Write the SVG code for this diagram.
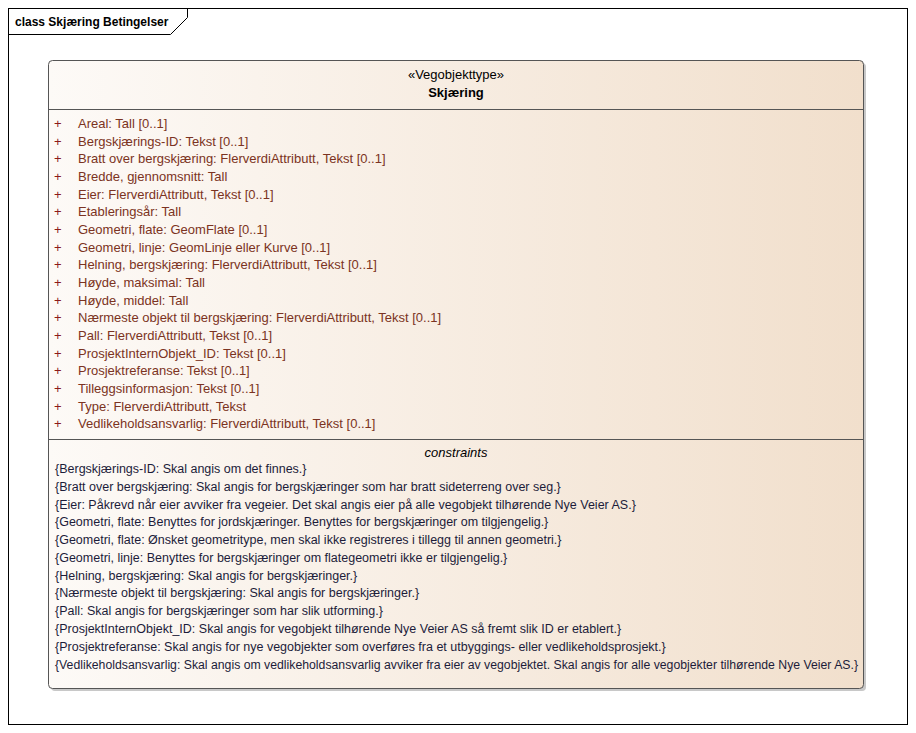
<svg xmlns="http://www.w3.org/2000/svg" width="916" height="733" viewBox="0 0 916 733">
<style>
text{font-family:"Liberation Sans",Arial,sans-serif;font-size:13px}
.attr{fill:#7b3322}
.plus{fill:#8b1a1a}
.con text{fill:#1c1c3a;font-size:12.5px}
.hdr{fill:#000}
.ttl{font-size:12px;font-weight:bold}
</style>
<defs>
<linearGradient id="g" x1="0" y1="0" x2="1" y2="0">
<stop offset="0" stop-color="#fdfaf7"/>
<stop offset="1" stop-color="#f1dfcc"/>
</linearGradient>
</defs>
<rect x="0" y="0" width="916" height="733" fill="#fff"/>
<g id="frame">
<rect x="8.5" y="8.5" width="899" height="716" fill="none" stroke="#000" stroke-width="1"/>
<path d="M8.5 34.5 H170.5 L187.5 17.5 V8.5" fill="none" stroke="#000"/>
<text x="15" y="26" class="hdr ttl">class Skjæring Betingelser</text>
</g>
<g id="connectors"></g>
<g id="Skjaering">
<rect x="51" y="63" width="815" height="628" rx="4" fill="#c8c8c8"/>
<rect x="48.5" y="60.5" width="815" height="628" rx="4" fill="url(#g)" stroke="#555" stroke-width="1"/>
<line x1="48.5" y1="109.5" x2="863.5" y2="109.5" stroke="#555"/>
<line x1="48.5" y1="439.5" x2="863.5" y2="439.5" stroke="#555"/>
<text x="456" y="79" text-anchor="middle" class="hdr">«Vegobjekttype»</text>
<text x="456" y="97" text-anchor="middle" class="hdr" style="font-weight:bold">Skjæring</text>
<g class="plus">
<text x="54" y="128">+</text><text x="54" y="146">+</text><text x="54" y="163">+</text><text x="54" y="181">+</text><text x="54" y="199">+</text><text x="54" y="216">+</text><text x="54" y="234">+</text><text x="54" y="252">+</text><text x="54" y="269">+</text><text x="54" y="287">+</text><text x="54" y="305">+</text><text x="54" y="322">+</text><text x="54" y="340">+</text><text x="54" y="358">+</text><text x="54" y="375">+</text><text x="54" y="393">+</text><text x="54" y="411">+</text><text x="54" y="428">+</text>
</g>
<g class="attr">
<text x="78" y="128">Areal: Tall [0..1]</text>
<text x="78" y="146">Bergskjærings-ID: Tekst [0..1]</text>
<text x="78" y="163">Bratt over bergskjæring: FlerverdiAttributt, Tekst [0..1]</text>
<text x="78" y="181">Bredde, gjennomsnitt: Tall</text>
<text x="78" y="199">Eier: FlerverdiAttributt, Tekst [0..1]</text>
<text x="78" y="216">Etableringsår: Tall</text>
<text x="78" y="234">Geometri, flate: GeomFlate [0..1]</text>
<text x="78" y="252">Geometri, linje: GeomLinje eller Kurve [0..1]</text>
<text x="78" y="269">Helning, bergskjæring: FlerverdiAttributt, Tekst [0..1]</text>
<text x="78" y="287">Høyde, maksimal: Tall</text>
<text x="78" y="305">Høyde, middel: Tall</text>
<text x="78" y="322">Nærmeste objekt til bergskjæring: FlerverdiAttributt, Tekst [0..1]</text>
<text x="78" y="340">Pall: FlerverdiAttributt, Tekst [0..1]</text>
<text x="78" y="358">ProsjektInternObjekt_ID: Tekst [0..1]</text>
<text x="78" y="375">Prosjektreferanse: Tekst [0..1]</text>
<text x="78" y="393">Tilleggsinformasjon: Tekst [0..1]</text>
<text x="78" y="411">Type: FlerverdiAttributt, Tekst</text>
<text x="78" y="428">Vedlikeholdsansvarlig: FlerverdiAttributt, Tekst [0..1]</text>
</g>
<text x="456" y="457" text-anchor="middle" class="hdr" style="font-style:italic">constraints</text>
<g class="con">
<text x="55" y="473">{Bergskjærings-ID: Skal angis om det finnes.}</text>
<text x="55" y="491">{Bratt over bergskjæring: Skal angis for bergskjæringer som har bratt sideterreng over seg.}</text>
<text x="55" y="509">{Eier: Påkrevd når eier avviker fra vegeier. Det skal angis eier på alle vegobjekt tilhørende Nye Veier AS.}</text>
<text x="55" y="526">{Geometri, flate: Benyttes for jordskjæringer. Benyttes for bergskjæringer om tilgjengelig.}</text>
<text x="55" y="544">{Geometri, flate: Ønsket geometritype, men skal ikke registreres i tillegg til annen geometri.}</text>
<text x="55" y="562">{Geometri, linje: Benyttes for bergskjæringer om flategeometri ikke er tilgjengelig.}</text>
<text x="55" y="580">{Helning, bergskjæring: Skal angis for bergskjæringer.}</text>
<text x="55" y="597">{Nærmeste objekt til bergskjæring: Skal angis for bergskjæringer.}</text>
<text x="55" y="615">{Pall: Skal angis for bergskjæringer som har slik utforming.}</text>
<text x="55" y="633">{ProsjektInternObjekt_ID: Skal angis for vegobjekt tilhørende Nye Veier AS så fremt slik ID er etablert.}</text>
<text x="55" y="651">{Prosjektreferanse: Skal angis for nye vegobjekter som overføres fra et utbyggings- eller vedlikeholdsprosjekt.}</text>
<text x="55" y="669" textLength="803" lengthAdjust="spacingAndGlyphs">{Vedlikeholdsansvarlig: Skal angis om vedlikeholdsansvarlig avviker fra eier av vegobjektet. Skal angis for alle vegobjekter tilhørende Nye Veier AS.}</text>
</g>
</g>
</svg>
